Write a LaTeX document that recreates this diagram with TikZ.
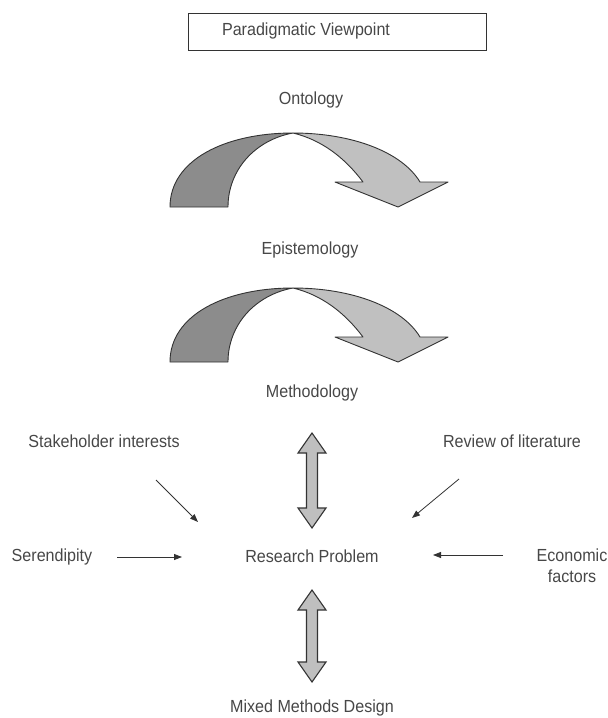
\documentclass[tikz,border=0pt]{standalone}
\usepackage{fontspec}
\setmainfont[FakeStretch=0.92]{Liberation Sans}
\usetikzlibrary{arrows.meta}
\definecolor{txt}{HTML}{474747}
\definecolor{edge}{HTML}{333333}
\definecolor{darkfill}{HTML}{8C8C8C}
\definecolor{lightfill}{HTML}{C0C0C0}
\definecolor{dblfill}{HTML}{BFBFBF}
\tikzset{
  lbl/.style={text=txt, font=\fontsize{17.5}{21}\selectfont, inner sep=0pt, align=center},
  darkpart/.style={fill=darkfill, draw=edge, line width=0.9pt, line join=round},
  lightpart/.style={fill=lightfill, draw=edge, line width=0.9pt, line join=round},
  dblarrow/.style={fill=dblfill, draw=edge, line width=1.1pt, line join=miter},
  thinarrow/.style={draw=edge, line width=0.8pt, -{Triangle[length=8pt,width=6pt]}}
}
\newcommand{\bentarrow}[1]{%
  \begin{scope}[shift={(0,#1)}]
    \path[darkpart] (170,207) .. controls (170,160) and (225,133) .. (293,133)
      .. controls (255,140) and (228,170) .. (228,207) -- cycle;
    \path[lightpart] (293,133) .. controls (352,133) and (402,152) .. (420,182)
      -- (448,182) -- (398,207) -- (335,182) -- (363,182)
      .. controls (345,158) and (322,140) .. (293,133) -- cycle;
  \end{scope}}
\begin{document}
\begin{tikzpicture}[x=1pt,y=-1pt]
\useasboundingbox (0,0) rectangle (608,718);
% title box
\node[draw=edge, line width=0.9pt, minimum width=298pt, minimum height=37pt, inner sep=0pt] (box) at (337,31.5) {};
\node[lbl] (para) at (306,31) {Paradigmatic Viewpoint};
\node[lbl] (onto) at (311,100) {Ontology};
\bentarrow{0}
\node[lbl] (epi) at (310,250) {Epistemology};
\bentarrow{155}
\node[lbl] (meth) at (312,393) {Methodology};
\node[lbl] (stake) at (104,441) {Stakeholder interests};
\node[lbl] (review) at (512,441) {Review of literature};
\node[lbl] (seren) at (52,557) {Serendipity};
\node[lbl] (rp) at (312,556) {Research Problem};
\node[lbl] (econ) at (572,566) {Economic\\factors};
\node[lbl] (mixed) at (312,708) {Mixed Methods Design};
% double arrows
\path[dblarrow] (312,433) -- (326,453) -- (317.5,453) -- (317.5,508) -- (326,508) -- (312,528)
  -- (298,508) -- (306.5,508) -- (306.5,453) -- (298,453) -- cycle;
\path[dblarrow] (312,590) -- (326,610) -- (317.5,610) -- (317.5,662) -- (326,662) -- (312,682)
  -- (298,662) -- (306.5,662) -- (306.5,610) -- (298,610) -- cycle;
% thin arrows
\coordinate (s1) at (156,480); \coordinate (s2) at (198,522);
\coordinate (r1) at (459,479); \coordinate (r2) at (412,518);
\coordinate (e1) at (117,557); \coordinate (e2) at (182,557);
\coordinate (f1) at (503,555); \coordinate (f2) at (433,555);
\draw[thinarrow] (s1) -- (s2);
\draw[thinarrow] (r1) -- (r2);
\draw[thinarrow] (e1) -- (e2);
\draw[thinarrow] (f1) -- (f2);
\end{tikzpicture}
\end{document}
